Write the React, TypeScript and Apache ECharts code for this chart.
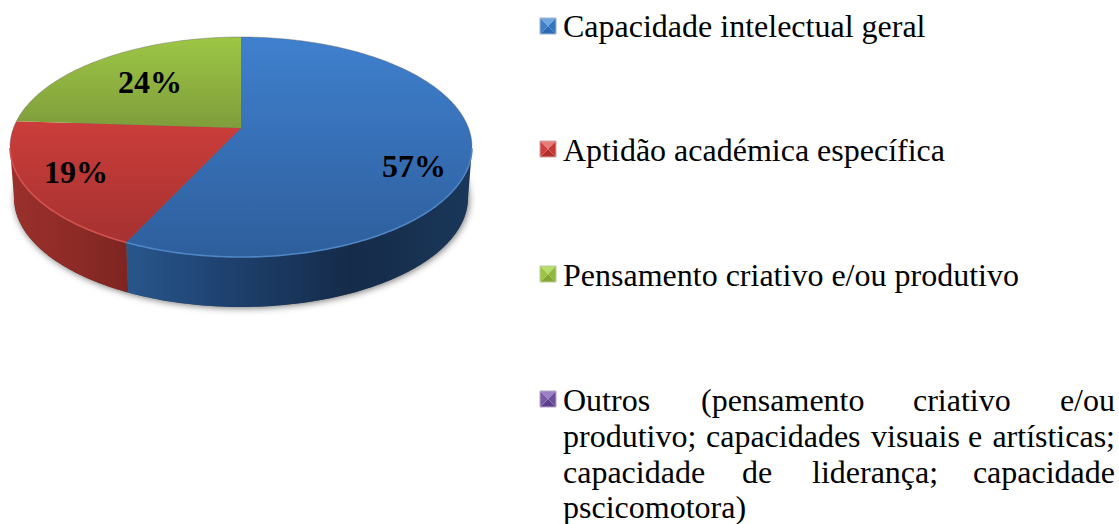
import React, { useEffect, useRef } from "react";
import * as echarts from "echarts";

const categories = [
  "Capacidade intelectual geral",
  "Aptidão académica específica",
  "Pensamento criativo e/ou produtivo",
  "Outros",
];
const values = [57, 19, 24, 0];
const percentLabels = ["57%", "19%", "24%", ""];

// Appearance (one entry per category)
const topStops = [
  ["#3f80ce", "#2e5e9c"],
  ["#cb3d3a", "#a53231"],
  ["#9dc645", "#7f9d3b"],
  ["#7d5ba8", "#5f4585"],
];
const wallStops = [
  ["#28568c", "#1e4270", "#152b49", "#1a3759"],
  ["#9a302c", "#8e2b27", "#7e2521", "#7e2521"],
  ["#7f9d3b", "#6a8431", "#6a8431", "#6a8431"],
  ["#5f4585", "#4d376d", "#4d376d", "#4d376d"],
];
const rimColors = ["#4f86c6", "#d4524f", "#a9cc5c", "#8a6ab5"];
const labelPos = [
  [414, 166],
  [76, 172],
  [150, 82],
  [0, 0],
];

// Pie geometry
const CX = 241;
const CY = 147;
const RX = 231;
const RY = 110;
const BCX = 241;
const BCY = 198;
const BRX = 227;
const BRY = 109;
const PERSPECTIVE = -0.173; // apex offset within the ellipse
const SERIF = '"Liberation Serif", "Times New Roman", serif';

// Angle (fraction of the turn, clockwise from the top) -> point on the unit disc seen in perspective
function project(fraction: number, r = 1): [number, number] {
  const t = fraction * Math.PI * 2;
  const x = r * Math.sin(t);
  const y = -r * Math.cos(t);
  const a = PERSPECTIVE;
  const d = 1 + a * y;
  return [(x * Math.sqrt(1 - a * a)) / d, (y + a) / d];
}

function arcSamples(from: number, to: number) {
  const n = Math.max(2, Math.ceil((to - from) * 360));
  const out: [number, number][] = [];
  for (let i = 0; i <= n; i++) out.push(project(from + ((to - from) * i) / n));
  return out;
}

const toTop = (p: number[]) => [CX + p[0] * RX, CY + p[1] * RY];
const toBottom = (p: number[]) => [BCX + p[0] * BRX, BCY + p[1] * BRY];

function renderSlice(params: any, api: any) {
  const index = params.dataIndex;
  const value = api.value(0);
  const children: any[] = [];
  const total = values.reduce((s, v) => s + v, 0);
  if (index === 0) {
    const ring: number[][] = [];
    for (let i = 0; i < 180; i++) {
      const t = (i / 180) * Math.PI * 2;
      ring.push(toBottom([Math.cos(t), Math.sin(t)]));
    }
    children.push({
      type: "polygon",
      shape: { points: ring },
      style: {
        fill: "#666",
        shadowBlur: 7,
        shadowColor: "rgba(0,0,0,0.55)",
        shadowOffsetX: 1,
        shadowOffsetY: 1,
      },
    });
  }
  if (!(value > 0)) return { type: "group", children };

  const start = values.slice(0, index).reduce((s, v) => s + v, 0) / total;
  const end = start + value / total;
  const arc = arcSamples(start, end);
  const front = arc.filter((p) => p[1] >= 0);

  if (front.length > 1) {
    const stops = wallStops[index];
    children.push({
      type: "polygon",
      shape: {
        points: [...front.map(toTop), ...front.slice().reverse().map(toBottom)],
      },
      style: {
        fill: {
          type: "linear",
          x: index === 0 ? 1 : 0,
          y: 0,
          x2: index === 0 ? 0 : 1,
          y2: 0,
          global: false,
          colorStops:
            index === 0
              ? [
                  { offset: 0, color: stops[3] },
                  { offset: 0.35, color: stops[2] },
                  { offset: 0.72, color: stops[1] },
                  { offset: 1, color: stops[0] },
                ]
              : [
                  { offset: 0, color: stops[0] },
                  { offset: 0.5, color: stops[1] },
                  { offset: 1, color: stops[2] },
                ],
        },
      },
    });
  }

  const apex = toTop(project(0, 0));
  children.push({
    type: "polygon",
    shape: { points: [apex, ...arc.map(toTop)] },
    style: {
      fill: {
        type: "linear",
        x: 0,
        y: 0,
        x2: 0,
        y2: 1,
        global: false,
        colorStops: [
          { offset: 0, color: topStops[index][0] },
          { offset: 1, color: topStops[index][1] },
        ],
      },
    },
  });

  if (front.length > 1) {
    children.push({
      type: "polyline",
      shape: { points: front.map(toTop) },
      style: { fill: "none", stroke: rimColors[index], lineWidth: 1.6 },
    });
  }
  const back = arc.filter((p) => p[1] < 0);
  if (back.length > 1) {
    children.push({
      type: "polyline",
      shape: { points: back.map(toTop) },
      style: { fill: "none", stroke: "rgba(95,95,95,0.4)", lineWidth: 1 },
    });
  }
  children.push({
    type: "text",
    style: {
      x: labelPos[index][0],
      y: labelPos[index][1],
      text: percentLabels[index],
      align: "center",
      verticalAlign: "middle",
      fill: "#000",
      font: `bold 32px ${SERIF}`,
    },
  });
  return { type: "group", children };
}

const legendLines: { x: number; y: number; text: string; align?: string }[] = [
  { x: 563, y: 10, text: categories[0] },
  { x: 563, y: 134, text: categories[1] },
  { x: 563, y: 259, text: categories[2] },
  { x: 563, y: 384, text: "Outros" },
  { x: 701, y: 384, text: "(pensamento" },
  { x: 913, y: 384, text: "criativo" },
  { x: 1115, y: 384, text: "e/ou", align: "right" },
  { x: 563, y: 420, text: "produtivo;" },
  { x: 706, y: 420, text: "capacidades" },
  { x: 871, y: 420, text: "visuais" },
  { x: 968, y: 420, text: "e" },
  { x: 1115, y: 420, text: "artísticas;", align: "right" },
  { x: 563, y: 456, text: "capacidade" },
  { x: 742, y: 456, text: "de" },
  { x: 812, y: 456, text: "liderança;" },
  { x: 1115, y: 456, text: "capacidade", align: "right" },
  { x: 563, y: 491, text: "pscicomotora)" },
];

const markerY = [18, 141, 266, 391];
const markerFaces = [
  ["#6fa5e0", "#2c6ab4", "#3f7fc8", "#3575be", "#9db4cf"],
  ["#e57c79", "#b52f2c", "#cf3f3b", "#c43835", "#d5a5a4"],
  ["#b9dc6a", "#82a834", "#9cc543", "#90b83c", "#bccd9a"],
  ["#9d80c6", "#5d3f8b", "#7b59aa", "#6f4e9d", "#b5a6c9"],
];

function marker(y: number, c: string[]) {
  const s = 16;
  const m = s / 2;
  const tri = (pts: number[][], fill: string) => ({
    type: "polygon",
    shape: { points: pts },
    style: { fill },
  });
  return {
    type: "group",
    x: 540,
    y,
    children: [
      tri([[0, 0], [s, 0], [m, m]], c[0]),
      tri([[0, s], [s, s], [m, m]], c[1]),
      tri([[0, 0], [0, s], [m, m]], c[2]),
      tri([[s, 0], [s, s], [m, m]], c[3]),
      {
        type: "rect",
        shape: { x: 0, y: 0, width: s, height: s },
        style: { fill: "none", stroke: c[4], lineWidth: 1 },
      },
    ],
  };
}

export default function App() {
  const ref = useRef<HTMLDivElement>(null);
  useEffect(() => {
    document.body.style.margin = "0";
    const chart = echarts.init(ref.current!, null, { renderer: "svg" });
    chart.setOption({
      animation: false,
      backgroundColor: "#fff",
      graphic: {
        elements: [
          ...markerY.map((y, i) => marker(y, markerFaces[i])),
          ...legendLines.map((l) => ({
            type: "text",
            style: {
              x: l.x,
              y: l.y,
              text: l.text,
              align: l.align ?? "left",
              verticalAlign: "top",
              fill: "#000",
              font: `32px ${SERIF}`,
            },
          })),
        ],
      },
      series: [
        {
          type: "custom",
          coordinateSystem: "none",
          name: "Capacidades",
          renderItem: renderSlice,
          data: values.map((v, i) => ({ name: categories[i], value: [v] })),
          silent: true,
        },
      ],
    });
    return () => chart.dispose();
  }, []);
  return (
    <div
      ref={ref}
      style={{ position: "absolute", left: 0, top: 0, width: 1119, height: 524 }}
    />
  );
}
